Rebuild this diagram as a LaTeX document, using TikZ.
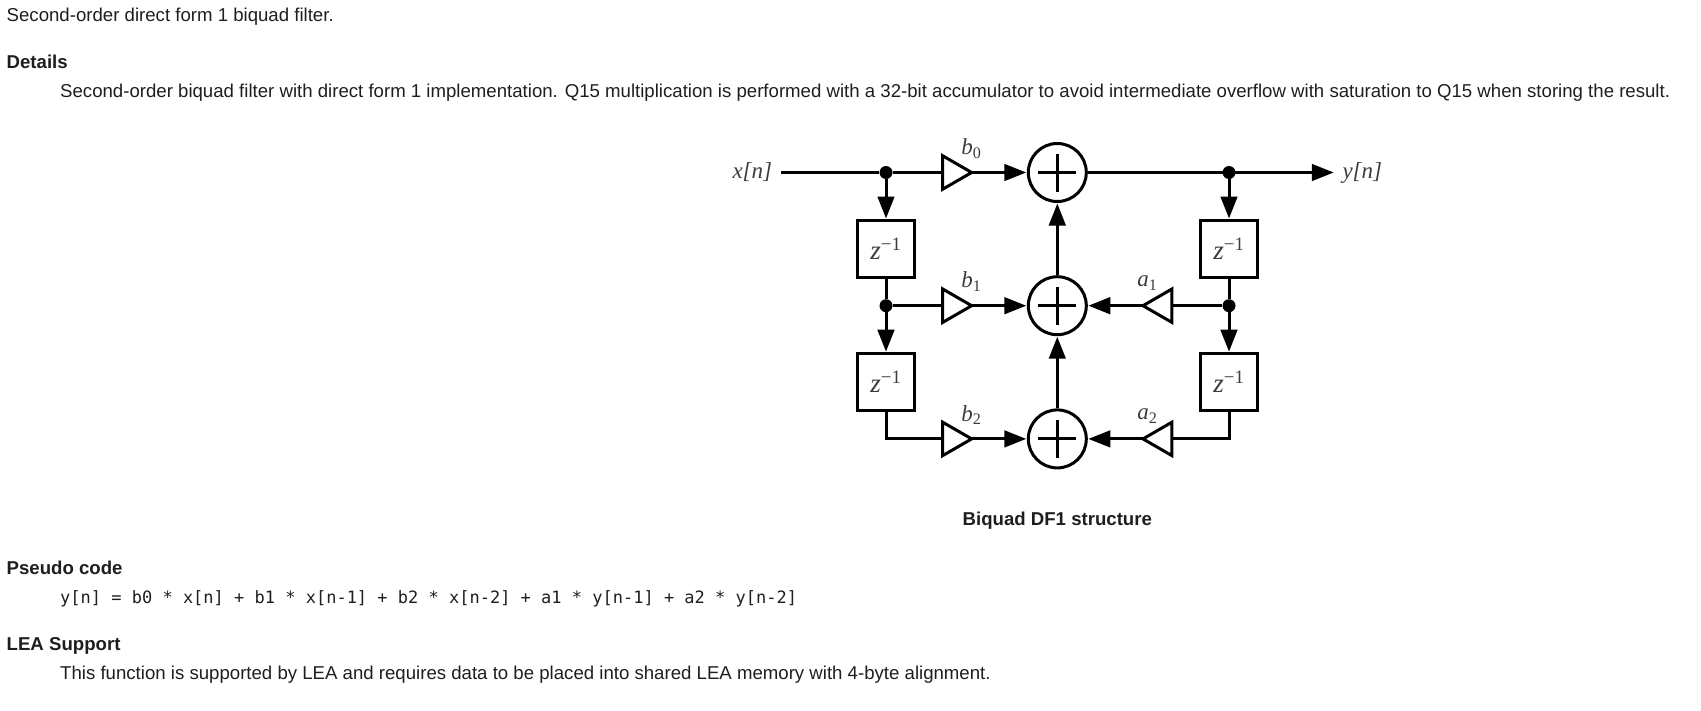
\documentclass[tikz,border=0pt]{standalone}
\usepackage{fontspec}
\setmainfont{Liberation Sans}
\setmonofont{DejaVu Sans Mono}
\newfontfamily\labelfont{Liberation Serif}
\usepackage{xcolor}
\usetikzlibrary{arrows.meta,positioning,shapes.geometric}
\definecolor{TXdark}{RGB}{30,30,30}
\definecolor{LBgray}{RGB}{60,60,60}

\begin{document}
\begin{tikzpicture}[
    x=1pt, y=-1pt,
    on grid,
    wire/.style={line width=3pt},
    arrow/.style={wire, -{Triangle[length=22pt,width=16.5pt]}, shorten >=0.5pt},
    summer/.style={
      draw,
      circle,
      line width=3pt,
      minimum size=58pt,
      inner sep=0pt,
      path picture={
        \draw[line width=3pt] ([xshift=-19pt]path picture bounding box.center) -- ([xshift=19pt]path picture bounding box.center);
        \draw[line width=3pt] ([yshift=-19pt]path picture bounding box.center) -- ([yshift=19pt]path picture bounding box.center);
      }
    },
    delay/.style={
      draw,
      line width=3pt,
      minimum size=57pt,
      inner sep=0pt,
      font=\labelfont\fontsize{27}{27}\selectfont\itshape,
      text=LBgray
    },
    gain/.style={
      draw,
      isosceles triangle,
      isosceles triangle apex angle=60,
      line width=3pt,
      minimum height=29pt,
      inner sep=0pt,
      outer sep=0pt,
      fill=white
    },
    joint/.style={circle, fill=black, minimum size=13pt, inner sep=0pt},
    sig/.style={font=\labelfont\fontsize{23}{23}\selectfont\itshape, text=LBgray, inner sep=0pt},
    para/.style={anchor=base west, inner sep=0pt, text=TXdark, font=\fontsize{18.62}{18.62}\selectfont},
    head/.style={para, font=\bfseries\fontsize{18.62}{18.62}\selectfont},
    pseudo/.style={para, font=\ttfamily\fontsize{17}{17}\selectfont}
  ]
    \useasboundingbox (0,0) rectangle (1701,710);

    % text around the figure
    \node[para] (intro) at (6.5,21) {Second-order direct form 1 biquad filter.};
    \node[head] (details) at (6.5,68) {Details};
    \node[para] (details-text) at (60,97)
      {Second-order biquad filter with direct form 1 implementation. Q15 multiplication is performed with a 32-bit accumulator to avoid intermediate overflow with saturation to Q15 when storing the result.};
    \node[head] (code-head) at (6.5,574) {Pseudo code};
    \node[pseudo] (code-text) at (60,603)
      {y[n] = b0 * x[n] + b1 * x[n-1] + b2 * x[n-2] + a1 * y[n-1] + a2 * y[n-2]};
    \node[head] (lea-head) at (6.5,650) {LEA Support};
    \node[para] (lea-text) at (60,679)
      {This function is supported by LEA and requires data to be placed into shared LEA memory with 4-byte alignment.};

    % summers
    \node[summer] (sum-0) at (1057.3,172.5) {};
    \node[summer, below=133.2pt of sum-0] (sum-1) {};
    \node[summer, below=133.2pt of sum-1] (sum-2) {};

    % joints and delays
    \node[joint, left=171.3pt of sum-0] (joint-x0) {};
    \node[joint, left=171.3pt of sum-1] (joint-x1) {};
    \node[joint, right=171.7pt of sum-0] (joint-y0) {};
    \node[joint, right=171.7pt of sum-1] (joint-y1) {};
    \node[delay, below=76.5pt of joint-x0] (delay-x1) {z\textsuperscript{\upshape\textminus1}};
    \node[delay, below=76.5pt of joint-x1] (delay-x2) {z\textsuperscript{\upshape\textminus1}};
    \node[delay, below=76.5pt of joint-y0] (delay-y1) {z\textsuperscript{\upshape\textminus1}};
    \node[delay, below=76.5pt of joint-y1] (delay-y2) {z\textsuperscript{\upshape\textminus1}};

    % gains
    \node[gain, left=105pt of sum-0] (gain-b0) {};
    \node[gain, left=105pt of sum-1] (gain-b1) {};
    \node[gain, left=105pt of sum-2] (gain-b2) {};
    \node[gain, shape border rotate=180, right=105pt of sum-1] (gain-a1) {};
    \node[gain, shape border rotate=180, right=105pt of sum-2] (gain-a2) {};

    % labels
    \node[sig, left=305pt of sum-0] (x-in) {x[n]};
    \node[sig, right=305pt of sum-0] (y-out) {y[n]};
    \node[sig, above=24pt of gain-b0, xshift=19pt] (label-b0) {b\textsubscript{\upshape 0}};
    \node[sig, above=24pt of gain-b1, xshift=19pt] (label-b1) {b\textsubscript{\upshape 1}};
    \node[sig, above=24pt of gain-b2, xshift=19pt] (label-b2) {b\textsubscript{\upshape 2}};
    \node[sig, above=22.5pt of gain-a1, xshift=-15pt] (label-a1) {a\textsubscript{\upshape 1}};
    \node[sig, above=22.5pt of gain-a2, xshift=-15pt] (label-a2) {a\textsubscript{\upshape 2}};
    \node[head, anchor=center, below=82pt of sum-2] (caption) {Biquad DF1 structure};

    % connectors
    \draw[wire] ([xshift=9pt]x-in.east) -- (joint-x0) -- (gain-b0.lower side);
    \draw[arrow] (joint-x0) -- (delay-x1);
    \draw[wire] (delay-x1) -- (joint-x1);
    \draw[arrow] (joint-x1) -- (delay-x2);
    \draw[wire] (joint-x1) -- (gain-b1.lower side);
    \draw[wire] (delay-x2.south) |- (gain-b2.lower side);
    \draw[arrow] (gain-b0.apex) -- (sum-0);
    \draw[arrow] (gain-b1.apex) -- (sum-1);
    \draw[arrow] (gain-b2.apex) -- (sum-2);
    \draw[arrow] (sum-0) -- ([xshift=-8pt]y-out.west);
    \draw[arrow] (joint-y0) -- (delay-y1);
    \draw[wire] (delay-y1) -- (joint-y1);
    \draw[arrow] (joint-y1) -- (delay-y2);
    \draw[wire] (joint-y1) -- (gain-a1.lower side);
    \draw[wire] (delay-y2.south) |- (gain-a2.lower side);
    \draw[arrow] (gain-a1.apex) -- (sum-1);
    \draw[arrow] (gain-a2.apex) -- (sum-2);
    \draw[arrow] (sum-2) -- (sum-1);
    \draw[arrow] (sum-1) -- (sum-0);
  \end{tikzpicture}
\end{document}
